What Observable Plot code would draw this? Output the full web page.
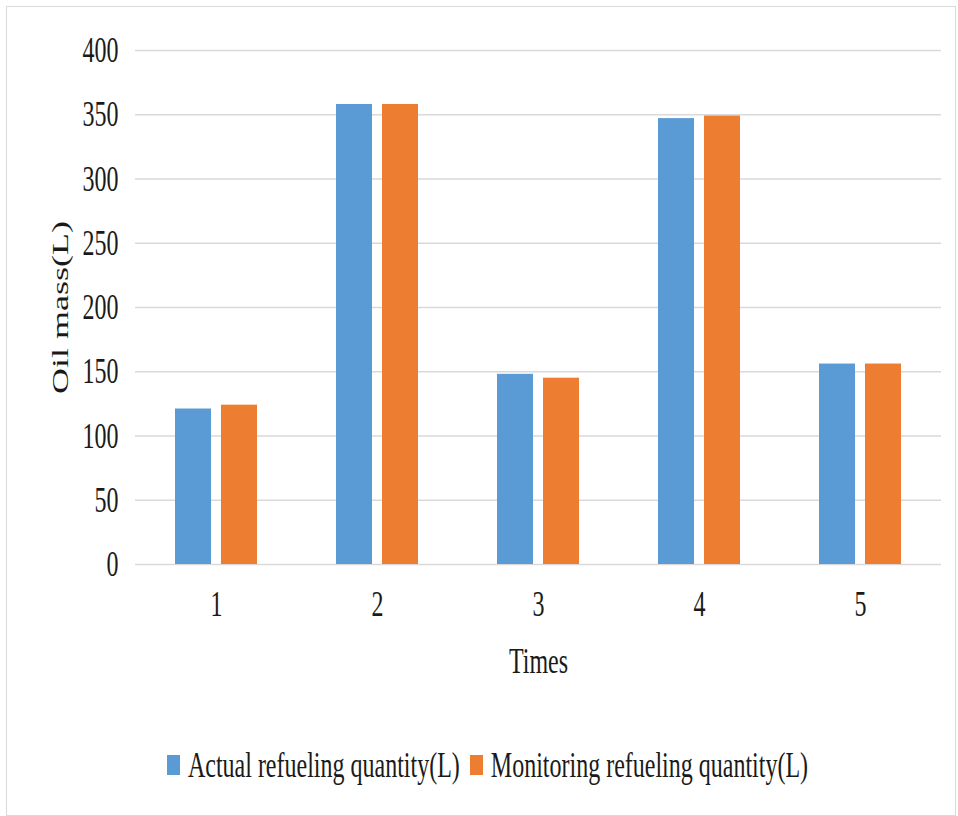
<!DOCTYPE html>
<html>
<head>
<meta charset="utf-8">
<script src="https://cdn.jsdelivr.net/npm/d3@7"></script>
<script src="https://cdn.jsdelivr.net/npm/@observablehq/plot@0.6"></script>
<style>
  html, body { margin: 0; padding: 0; background: #fff; }
  body { width: 958px; height: 816px; position: relative; overflow: hidden;
         font-family: "Liberation Serif", "Times New Roman", serif; color: #1a1a1a; }
  #frame { position: absolute; left: 6px; top: 6px; width: 950px; height: 810px;
           box-sizing: border-box; border: 1.5px solid #d9d9d9; pointer-events: none; }
  #chart { position: absolute; left: 0; top: 0; }
  #legend { position: absolute; left: 0; top: 749px; width: 958px; height: 32px;
            display: flex; justify-content: center; align-items: center;
            padding-left: 17px; box-sizing: border-box; font-size: 24px; }
  .item { display: flex; align-items: center; margin: 0 5px; }
  .swatch { width: 13px; height: 20px; margin-right: 8px; }
  .lab { display: inline-block; transform: scaleY(1.5); transform-origin: center; white-space: nowrap; }
</style>
</head>
<body>
<div id="chart"></div>
<div id="legend"></div>
<div id="frame"></div>
<script>
// Refueling trials and the measured oil mass for each
const times = [1, 2, 3, 4, 5];
const actual = [121, 358, 148, 347, 156];
const monitoring = [124, 358, 145, 349, 156];
const yTicks = [0, 50, 100, 150, 200, 250, 300, 350, 400];
const seriesNames = ["Actual refueling quantity(L)", "Monitoring refueling quantity(L)"];
const colors = ["#5b9bd5", "#ed7d31"];

const rowsActual = times.map((t, i) => ({time: t, value: actual[i]}));
const rowsMonitoring = times.map((t, i) => ({time: t, value: monitoring[i]}));

const textColor = "#1a1a1a";
const inset = 46; // each bar takes the left or right part of its band

const chart = Plot.plot({
  width: 958,
  height: 720,
  marginTop: 50,
  marginBottom: 156,
  marginLeft: 135,
  marginRight: 17,
  style: {fontFamily: "Liberation Serif, Times New Roman, serif", fontSize: "24px", color: textColor, background: "transparent"},
  x: {type: "band", domain: times, paddingInner: 0.4915, paddingOuter: 0.24575},
  y: {domain: [0, 400]},
  marks: [
    Plot.ruleY(yTicks, {stroke: "#d9d9d9", strokeWidth: 1.5}),
    Plot.barY(rowsActual, {x: "time", y: "value", fill: colors[0], insetRight: inset}),
    Plot.barY(rowsMonitoring, {x: "time", y: "value", fill: colors[1], insetLeft: inset}),
    Plot.axisY({ticks: yTicks, tickSize: 0, tickPadding: 17, label: null, fontSize: 24, fill: textColor}),
    Plot.axisX({tickSize: 0, tickPadding: 30, label: null, fontSize: 24, fill: textColor}),
    Plot.text(["Times"], {frameAnchor: "bottom", dy: 97, text: d => d, fontSize: 24,
      textAnchor: "middle", lineAnchor: "middle", fill: textColor}),
    Plot.text(["Oil mass(L)"], {frameAnchor: "left", dx: -75, rotate: -90, text: d => d, fontSize: 24,
      textAnchor: "middle", lineAnchor: "middle", fill: textColor})
  ]
});
document.getElementById("chart").appendChild(chart);

// Tall, narrow lettering: stretch each label about its own centre
function stretchText(svg, k) {
  svg.querySelectorAll("text").forEach(t => {
    const b = t.getBBox();
    const cx = b.x + b.width / 2, cy = b.y + b.height / 2;
    const tr = t.getAttribute("transform") || "";
    const s = /rotate/.test(tr) ? `scale(${k},1)` : `scale(1,${k})`;
    t.setAttribute("transform", `${tr} translate(${cx},${cy}) ${s} translate(${-cx},${-cy})`.trim());
  });
}
stretchText(chart, 1.5);

// Legend below the chart
const legend = document.getElementById("legend");
seriesNames.forEach((name, i) => {
  const item = document.createElement("div");
  item.className = "item";
  const sw = document.createElement("span");
  sw.className = "swatch";
  sw.style.background = colors[i];
  const lab = document.createElement("span");
  lab.className = "lab";
  lab.textContent = name;
  item.appendChild(sw);
  item.appendChild(lab);
  legend.appendChild(item);
});
</script>
</body>
</html>
